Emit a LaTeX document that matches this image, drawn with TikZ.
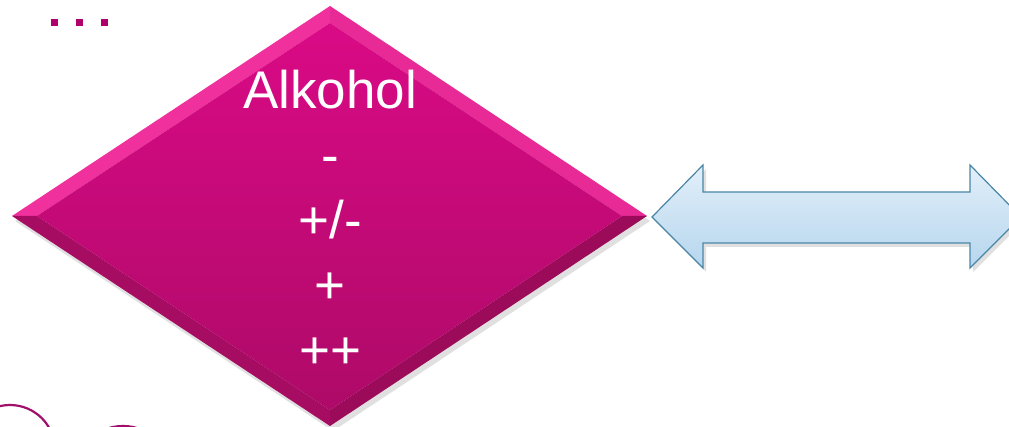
\documentclass[tikz,border=0pt]{standalone}
\usepackage{fontspec}
\setmainfont{Liberation Sans}
\usetikzlibrary{calc}
\definecolor{pinkTL}{HTML}{F0309C}
\definecolor{pinkTR}{HTML}{E82A96}
\definecolor{pinkBL}{HTML}{A60C62}
\definecolor{pinkBR}{HTML}{9C0A5A}
\definecolor{faceTop}{HTML}{DA0A86}
\definecolor{faceBot}{HTML}{AE0A68}
\definecolor{dotcol}{HTML}{B0006E}
\definecolor{ringcol}{HTML}{A0106A}
\definecolor{arrTop}{HTML}{E2EFF9}
\definecolor{arrBot}{HTML}{B6D6EE}
\definecolor{arrLine}{HTML}{4A86A6}
\tikzset{
  lbl/.style={text=white, anchor=base, inner sep=0pt, font=\fontsize{53}{63}\selectfont},
  dotsq/.style={fill=dotcol, minimum size=7pt, inner sep=0pt},
  ring/.style={draw=ringcol, line width=2.2pt}
}
\begin{document}
\begin{tikzpicture}[x=1pt,y=-1pt]
\useasboundingbox (0,0) rectangle (1009,427);
\clip (0,0) rectangle (1009,427);
% outer diamond corners
\coordinate (T) at (330,6);
\coordinate (R) at (647,216);
\coordinate (B) at (330,426);
\coordinate (L) at (12,216);
% inner face corners
\coordinate (Ti) at (330,23);
\coordinate (Ri) at (622,216);
\coordinate (Bi) at (330,410);
\coordinate (Li) at (37,216);
% shadow
\fill[black,opacity=0.12] ($(T)+(3,5)$) -- ($(R)+(3,5)$) -- ($(B)+(3,5)$) -- ($(L)+(3,5)$) -- cycle;
% facets
\fill[pinkTL] (L) -- (T) -- (Ti) -- (Li) -- cycle;
\fill[pinkTR] (T) -- (R) -- (Ri) -- (Ti) -- cycle;
\fill[pinkBR] (R) -- (B) -- (Bi) -- (Ri) -- cycle;
\fill[pinkBL] (B) -- (L) -- (Li) -- (Bi) -- cycle;
\shade[top color=faceTop, bottom color=faceBot] (Ti) -- (Ri) -- (Bi) -- (Li) -- cycle;
% labels
\node[lbl] (t1) at (330,109) {Alkohol};
\node[lbl] (t2) at (330,174) {-};
\node[lbl] (t3) at (330,239) {+/-};
\node[lbl] (t4) at (330,304) {+};
\node[lbl] (t5) at (330,369) {++};
% double arrow
\fill[black,opacity=0.12] (655,221) -- (706,169) -- (706,196) -- (973,196) -- (973,169) -- (1024,221) -- (973,272) -- (973,247) -- (706,247) -- (706,272) -- cycle;
\shade[top color=arrTop, bottom color=arrBot, draw=arrLine, line width=1.2pt, line join=miter]
  (652,217) -- (703,165) -- (703,192) -- (970,192) -- (970,165) -- (1021,217) -- (970,268) -- (970,243) -- (703,243) -- (703,268) -- cycle;
% dots
\node[dotsq] (d1) at (54,23) {};
\node[dotsq] (d2) at (79,23) {};
\node[dotsq] (d3) at (104,23) {};
% rings
\draw[ring] (10,450) circle (45);
\draw[ring] (123,476) circle (50);
\end{tikzpicture}
\end{document}
